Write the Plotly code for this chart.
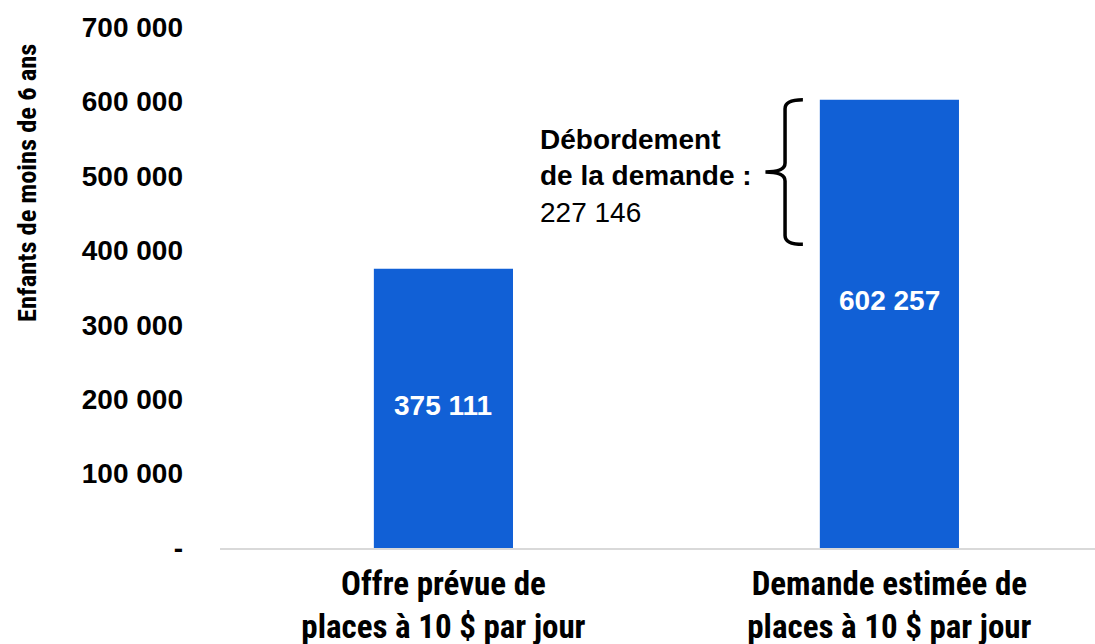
import plotly.graph_objects as go

categories = ["Offre prévue de<br>places à 10 $ par jour", "Demande estimée de<br>places à 10 $ par jour"]
values = [375111, 602257]
tick_values = [0, 100000, 200000, 300000, 400000, 500000, 600000, 700000]
tick_labels = ["-", "100 000", "200 000", "300 000", "400 000", "500 000", "600 000", "700 000"]
y_title = "Enfants de moins de 6 ans"
overflow_label = "Débordement<br>de la demande :"

def fmt(v):
    return f"{v:,}".replace(",", " ")

overflow = values[1] - values[0]
BLUE = "#1160d6"
NARROW = "Roboto Condensed, Liberation Sans Narrow, Arial Narrow, sans-serif"
SANS = "Liberation Sans, Arial, sans-serif"

xs = list(range(len(categories)))
fig = go.Figure(go.Bar(x=xs, y=values, marker=dict(color=BLUE, line=dict(width=0)), width=0.312,
                       hoverinfo="skip"))

# bar value labels
label_frac = [0.512, 0.553]
for i, v in enumerate(values):
    fig.add_annotation(x=i, y=v * label_frac[i], text=f"<b>{fmt(v)}</b>", showarrow=False,
                       font=dict(family=SANS, size=28, color="white"), xanchor="center", yanchor="middle")

# overflow annotation
fig.add_annotation(x=0.212, y=500000, xanchor="left", yanchor="middle", align="left", showarrow=False,
                   text=f"<b>{overflow_label}</b><br>{fmt(overflow)}",
                   font=dict(family=SANS, size=28, color="black"))

# brace spanning the overflow
top = values[1]
bot = 408000
mid = (top + bot) / 2
r = 12000
xv, xe, xt = 0.766, 0.806, 0.722
path = (f"M {xe},{top} Q {xv},{top} {xv},{top - r} L {xv},{mid + r} "
        f"Q {xv},{mid} {xt},{mid} Q {xv},{mid} {xv},{mid - r} L {xv},{bot + r} "
        f"Q {xv},{bot} {xe},{bot}")
fig.add_shape(type="path", path=path, xref="x", yref="y", line=dict(color="black", width=3.5))

# y axis title
fig.add_annotation(xref="paper", yref="paper", x=-0.221, y=0.70, text=f"<b>{y_title}</b>",
                   textangle=-90, showarrow=False, xanchor="center", yanchor="middle",
                   font=dict(family=NARROW, size=26.5, color="black"))

fig.update_layout(
    width=1095, height=644,
    margin=dict(l=220, r=0, t=27, b=96),
    plot_bgcolor="white", paper_bgcolor="white",
    showlegend=False,
    xaxis=dict(range=[-0.501, 1.461], tickvals=xs, ticktext=[f"<b>{c}</b>" for c in categories],
               tickfont=dict(family=NARROW, size=33, color="black"),
               showgrid=False, zeroline=False, showline=True, linecolor="#d9d9d9", linewidth=2,
               ticks="", ticklabelstandoff=5, automargin=False),
    yaxis=dict(range=[0, 700000], tickvals=tick_values, ticktext=[f"<b>{t}</b>" for t in tick_labels],
               tickfont=dict(family=SANS, size=28, color="black"),
               showgrid=False, zeroline=False, showline=False, ticks="", ticklabelstandoff=36,
               automargin=False),
)

fig.write_html("out.html", config={"displayModeBar": False},
               post_script="document.body.style.margin='0';document.body.style.overflow='hidden';")
